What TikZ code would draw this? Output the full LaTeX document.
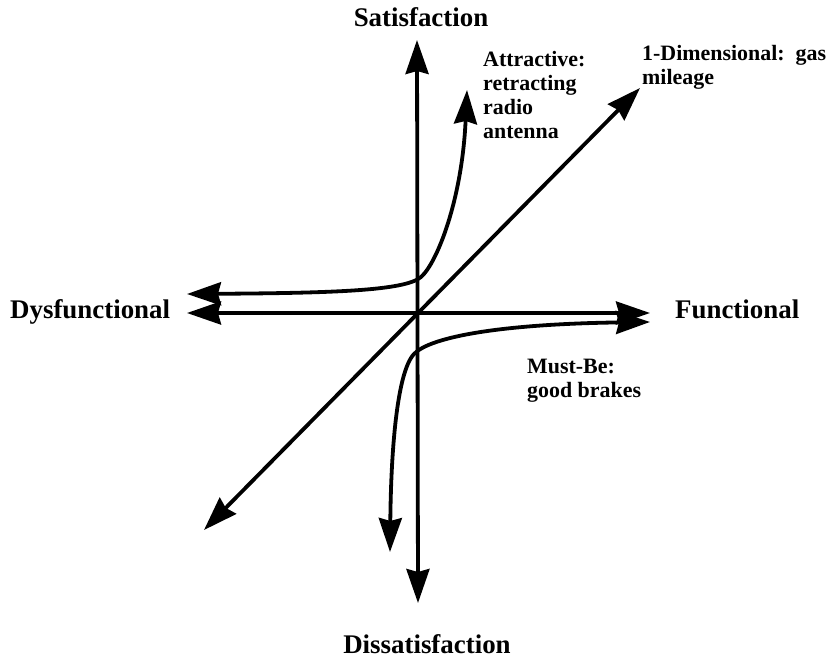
\documentclass[tikz,border=0pt]{standalone}
\usepackage{fontspec}
\setmainfont{Liberation Serif}
\usetikzlibrary{arrows.meta}
\tikzset{
  % --- Kano axes and curves ---
  kanotip/.tip={Stealth[length=34bp, width=23bp, inset=3bp]},
  kanoline/.style={line width=3.8bp, line join=miter},
  kanoboth/.style={kanoline, kanotip-kanotip},
  % --- labels ---
  axislabel/.style={font=\fontsize{27}{30}\selectfont\bfseries, inner sep=0pt},
  curvelabel/.style={font=\fontsize{22}{24}\selectfont\bfseries, align=left,
    inner sep=0pt, anchor=north west},
}

\begin{document}
\begin{tikzpicture}[x=1bp, y=-1bp]
    \useasboundingbox (0,0) rectangle (836,658);
    % axis end points
    \coordinate (o)   at (417,313);
    \coordinate (sat) at (417,40);
    \coordinate (dis) at (418,603);
    \coordinate (dys) at (187,313);
    \coordinate (fun) at (650,313);
    % one-dimensional line
    \coordinate (dimlo) at (204,530);
    \coordinate (dimhi) at (640,88);
    % attractive and must-be curves
    \coordinate (attl) at (187,294);
    \coordinate (attt) at (467,90);
    \coordinate (mbb)  at (390,552);
    \coordinate (mbr)  at (650,322);
    % axes
    \draw[kanoboth] (dys) -- (fun);
    \draw[kanoboth] (sat) -- (dis);
    \draw[kanoboth] (dimlo) -- (dimhi);
    % curves
    \draw[kanoboth] (attl) .. controls (330,293) and (405,291) .. (421,277)
      .. controls (437,263) and (462,200) .. (attt);
    \draw[kanoboth] (mbb) .. controls (391,450) and (397,372) .. (414,354)
      .. controls (430,337) and (500,324) .. (mbr);
    % labels
    \node[axislabel, anchor=base] (lsat) at (421,27) {Satisfaction};
    \node[axislabel, anchor=base] (ldis) at (427,653) {Dissatisfaction};
    \node[axislabel, anchor=base west] (ldys) at (10,318) {Dysfunctional};
    \node[axislabel, anchor=base west] (lfun) at (675,318) {Functional};
    \node[curvelabel] (latt) at (483,51) {Attractive:\\retracting\\radio\\antenna};
    \node[curvelabel] (ldim) at (642,45) {1-Dimensional:\ \ gas\\mileage};
    \node[curvelabel] (lmb) at (527,359) {Must-Be:\\good brakes};
\end{tikzpicture}
\end{document}
